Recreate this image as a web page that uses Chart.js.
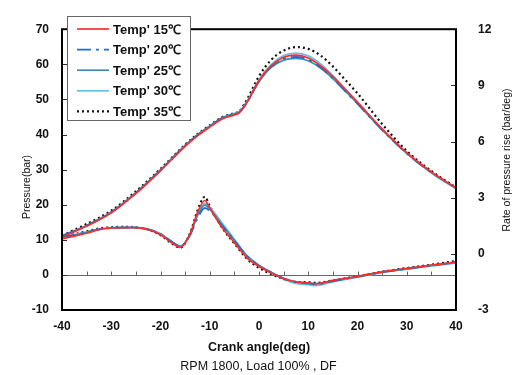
<!DOCTYPE html>
<html>
<head>
<meta charset="utf-8">
<script src="https://cdn.jsdelivr.net/npm/chart.js"></script>
<style>
  html, body { margin: 0; padding: 0; background: #fff; }
</style>
</head>
<body>
<canvas id="chart" width="517" height="375"></canvas>
<script>
// Crank angle (deg) for the pressure curves
const crankAngle = [-40, -35, -30, -25, -20, -15, -12.5, -10, -7.5, -5, -4, -2.5, 0, 2.5, 5, 7.5, 10, 12.5, 15, 17.5, 20, 25, 30, 35, 40];
// Cylinder pressure (bar), left axis
const pressure15 = [10.8, 13.9, 17.7, 23.2, 29.7, 36.6, 39.6, 42.1, 44.4, 45.6, 46.2, 49.0, 55.4, 59.6, 62.0, 62.6, 61.8, 59.6, 56.5, 52.9, 49.2, 41.6, 34.8, 29.3, 24.8];
const pressure20 = [11.0, 14.0, 17.8, 23.3, 29.8, 36.8, 39.8, 42.3, 44.6, 45.8, 46.3, 49.0, 55.2, 59.4, 61.6, 62.1, 61.3, 59.1, 56.0, 52.4, 48.8, 41.3, 34.6, 29.2, 24.7];
const pressure25 = [11.1, 14.1, 17.9, 23.4, 29.9, 36.9, 39.9, 42.4, 44.7, 45.9, 46.4, 49.1, 55.0, 59.1, 61.2, 61.7, 61.0, 58.9, 55.9, 52.4, 48.8, 41.3, 34.7, 29.2, 24.7];
const pressure30 = [11.1, 14.0, 17.8, 23.3, 29.8, 36.8, 39.9, 42.4, 44.8, 46.0, 46.5, 49.3, 55.6, 60.0, 62.5, 63.2, 62.4, 60.1, 56.8, 53.0, 49.2, 41.5, 34.6, 29.0, 24.5];
const pressure35 = [11.2, 14.5, 18.3, 23.8, 30.2, 37.1, 40.1, 42.6, 44.9, 46.1, 46.6, 49.8, 56.6, 61.3, 63.9, 64.9, 64.4, 62.5, 59.4, 55.6, 51.7, 43.0, 35.3, 29.6, 24.9];

// Crank angle (deg) for the rate of pressure rise curves
const rateAngle = [-40, -37.5, -35, -32.5, -30, -27.5, -25, -22.5, -20, -17.5, -16, -14, -12.5, -11, -10, -7.5, -5, -2.5, 0, 2.5, 5, 7.5, 10, 11.5, 15, 20, 25, 30, 35, 40];
// Rate of pressure rise (bar/deg), right axis
const rate15 = [0.8, 0.95, 1.1, 1.3, 1.38, 1.4, 1.4, 1.3, 1.02, 0.55, 0.35, 1.05, 2.2, 2.85, 2.45, 1.4, 0.6, -0.2, -0.68, -1.02, -1.32, -1.5, -1.55, -1.6, -1.42, -1.2, -0.96, -0.78, -0.6, -0.44];
const rate20 = [0.9, 1.0, 1.15, 1.3, 1.38, 1.4, 1.4, 1.3, 1.05, 0.6, 0.38, 1.0, 1.9, 2.45, 2.3, 1.5, 0.7, -0.12, -0.65, -1.0, -1.32, -1.52, -1.58, -1.62, -1.46, -1.22, -0.97, -0.8, -0.62, -0.45];
const rate25 = [0.9, 1.0, 1.15, 1.3, 1.38, 1.4, 1.4, 1.3, 1.05, 0.6, 0.4, 1.05, 2.05, 2.6, 2.4, 1.55, 0.72, -0.1, -0.62, -0.98, -1.3, -1.5, -1.56, -1.6, -1.45, -1.22, -0.98, -0.8, -0.62, -0.46];
const rate30 = [0.92, 1.02, 1.17, 1.32, 1.4, 1.42, 1.42, 1.32, 1.08, 0.62, 0.42, 1.0, 2.05, 2.7, 2.5, 1.65, 0.78, -0.07, -0.6, -1.0, -1.35, -1.58, -1.65, -1.7, -1.5, -1.25, -1.0, -0.82, -0.64, -0.5];
const rate35 = [0.95, 1.05, 1.2, 1.35, 1.42, 1.44, 1.42, 1.3, 1.0, 0.52, 0.33, 1.1, 2.3, 3.05, 2.55, 1.4, 0.55, -0.25, -0.75, -1.08, -1.35, -1.5, -1.52, -1.55, -1.42, -1.2, -0.95, -0.76, -0.58, -0.38];

const tempLabels = ["Temp' 15\u2103", "Temp' 20\u2103", "Temp' 25\u2103", "Temp' 30\u2103", "Temp' 35\u2103"];

const FONT = '"Liberation Sans", Arial, sans-serif';

// one style per temperature, shared by pressure and rate curves
const styles = [
  { color: '#ff2b2b', width: 1.7, dash: [] },
  { color: '#1b6fc8', width: 1.9, dash: [14, 5, 3, 5] },
  { color: '#3a8db6', width: 1.7, dash: [] },
  { color: '#5ec4e6', width: 1.7, dash: [] },
  { color: '#111111', width: 2.2, dash: [2, 3] },
];

const pressureSeries = [pressure15, pressure20, pressure25, pressure30, pressure35];
const rateSeries = [rate15, rate20, rate25, rate30, rate35];

const toPoints = (xs, ys) => xs.map((x, i) => ({ x, y: ys[i] }));

const datasets = [];
pressureSeries.forEach((values, i) => {
  datasets.push({
    label: tempLabels[i],
    data: toPoints(crankAngle, values),
    yAxisID: 'y',
    borderColor: styles[i].color,
    borderWidth: styles[i].width,
    borderDash: styles[i].dash,
    pointRadius: 0,
    fill: false,
    cubicInterpolationMode: 'monotone',
  });
});
rateSeries.forEach((values, i) => {
  datasets.push({
    label: tempLabels[i] + ' rate',
    data: toPoints(rateAngle, values),
    yAxisID: 'y2',
    borderColor: styles[i].color,
    borderWidth: styles[i].width,
    borderDash: styles[i].dash,
    pointRadius: 0,
    fill: false,
    cubicInterpolationMode: 'monotone',
  });
});

function verticalText(ctx, text, x, y) {
  ctx.save();
  ctx.translate(x, y);
  ctx.rotate(-Math.PI / 2);
  ctx.fillText(text, 0, 0);
  ctx.restore();
}

// zero line, frame, inward tick marks and the two axis titles
const framePlugin = {
  id: 'framePlugin',
  beforeDatasetsDraw(chart) {
    const { ctx, chartArea, scales } = chart;
    const y0 = Math.round(scales.y.getPixelForValue(0)) + 0.5;
    ctx.save();
    ctx.strokeStyle = '#666';
    ctx.lineWidth = 1;
    ctx.beginPath();
    ctx.moveTo(chartArea.left, y0);
    ctx.lineTo(chartArea.right, y0);
    for (let a = -35; a <= 35; a += 5) {
      const x = Math.round(scales.x.getPixelForValue(a)) + 0.5;
      ctx.moveTo(x, y0);
      ctx.lineTo(x, y0 - 4);
    }
    ctx.stroke();
    ctx.restore();
  },
  afterDraw(chart) {
    const { ctx, chartArea, scales } = chart;
    ctx.save();
    ctx.strokeStyle = '#333';
    ctx.lineWidth = 1;
    ctx.beginPath();
    scales.y.ticks.forEach(t => {
      const y = Math.round(scales.y.getPixelForValue(t.value)) + 0.5;
      ctx.moveTo(chartArea.left, y);
      ctx.lineTo(chartArea.left + 5, y);
    });
    scales.y2.ticks.forEach(t => {
      const y = Math.round(scales.y2.getPixelForValue(t.value)) + 0.5;
      ctx.moveTo(chartArea.right, y);
      ctx.lineTo(chartArea.right - 5, y);
    });
    ctx.stroke();
    ctx.strokeStyle = '#000';
    ctx.lineWidth = 2;
    ctx.strokeRect(chartArea.left, chartArea.top, chartArea.right - chartArea.left, chartArea.bottom - chartArea.top);

    ctx.fillStyle = '#111';
    ctx.font = '10.5px ' + FONT;
    ctx.textAlign = 'center';
    ctx.textBaseline = 'middle';
    verticalText(ctx, 'Pressure(bar)', 27, 187);
    verticalText(ctx, 'Rate of pressure rise (bar/deg)', 507, 160);
    ctx.restore();
  },
};

// boxed legend in the upper left of the plot
const legendBox = {
  id: 'legendBox',
  afterDraw(chart) {
    const ctx = chart.ctx;
    ctx.save();
    ctx.fillStyle = '#fff';
    ctx.fillRect(67, 16, 123, 104);
    ctx.strokeStyle = '#666';
    ctx.lineWidth = 1;
    ctx.strokeRect(67.5, 16.5, 123, 104);
    ctx.font = 'bold 13px ' + FONT;
    ctx.textBaseline = 'middle';
    ctx.textAlign = 'left';
    tempLabels.forEach((label, i) => {
      const y = 29 + i * 20.6;
      ctx.strokeStyle = styles[i].color;
      ctx.lineWidth = styles[i].width;
      ctx.setLineDash(styles[i].dash);
      ctx.beginPath();
      ctx.moveTo(77, y);
      ctx.lineTo(109, y);
      ctx.stroke();
      ctx.setLineDash([]);
      ctx.fillStyle = '#111';
      ctx.fillText(label, 113, y + 1);
    });
    ctx.restore();
  },
};

new Chart(document.getElementById('chart'), {
  type: 'line',
  data: { datasets },
  options: {
    responsive: false,
    animation: false,
    layout: { padding: { top: 13, left: 0, right: 0, bottom: 0 } },
    plugins: {
      legend: { display: false },
      tooltip: { enabled: false },
      subtitle: {
        display: true,
        position: 'bottom',
        text: 'RPM 1800, Load 100% , DF',
        color: '#111',
        font: { family: FONT, size: 12.5 },
        padding: { top: 1, bottom: 1 },
      },
    },
    scales: {
      x: {
        type: 'linear',
        min: -40,
        max: 40,
        grid: { display: false, drawTicks: false },
        border: { display: false },
        ticks: { stepSize: 10, padding: 9, color: '#111', font: { family: FONT, size: 12, weight: 'bold' } },
        title: {
          display: true,
          text: 'Crank angle(deg)',
          color: '#111',
          font: { family: FONT, size: 12.5, weight: 'bold' },
          padding: { top: 0, bottom: 3 },
        },
        afterFit(scale) { scale.height = 48; },
      },
      y: {
        position: 'left',
        min: -10,
        max: 70,
        grid: { display: false, drawTicks: false },
        border: { display: false },
        ticks: { stepSize: 10, padding: 13, color: '#111', font: { family: FONT, size: 12, weight: 'bold' } },
        afterFit(scale) { scale.width = 62; },
      },
      y2: {
        position: 'right',
        min: -3,
        max: 12,
        grid: { display: false, drawTicks: false },
        border: { display: false },
        ticks: { stepSize: 3, padding: 22, color: '#111', font: { family: FONT, size: 12, weight: 'bold' } },
        afterFit(scale) { scale.width = 61; },
      },
    },
  },
  plugins: [framePlugin, legendBox],
});
</script>
</body>
</html>
